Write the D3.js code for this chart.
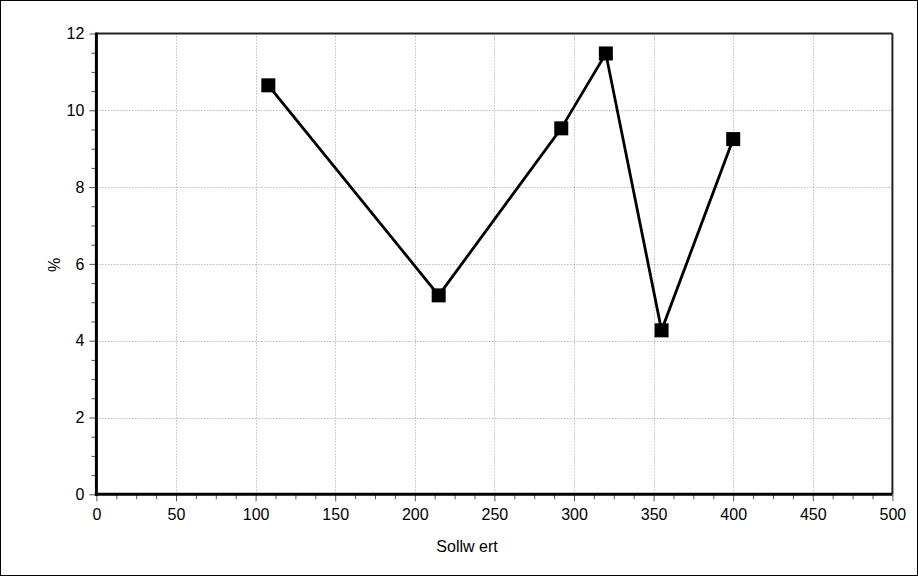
<!DOCTYPE html>
<html>
<head>
<meta charset="utf-8">
<script src="https://cdn.jsdelivr.net/npm/d3@7/dist/d3.min.js"></script>
<style>
  body { margin: 0; background: #fff; }
  text { font-family: "Liberation Sans", Arial, sans-serif; fill: #000; }
</style>
</head>
<body>
<div id="chart"></div>
<script>
var sollwert = [108, 215, 292, 320, 355, 400];
var prozent = [10.65, 5.18, 9.53, 11.48, 4.27, 9.25];
var xTicks = [0, 50, 100, 150, 200, 250, 300, 350, 400, 450, 500];
var yTicks = [0, 2, 4, 6, 8, 10, 12];

var width = 918, height = 576;
var plotLeft = 96.4, plotRight = 892.4, plotTop = 33.5, plotBottom = 494.3;

var svg = d3.select("#chart").append("svg")
    .attr("width", width)
    .attr("height", height);

// outer frame
svg.append("rect")
    .attr("x", 0.5).attr("y", 0.5)
    .attr("width", width - 1).attr("height", height - 1)
    .attr("fill", "none").attr("stroke", "#000");

var x = d3.scaleLinear().domain([0, 500]).range([plotLeft, plotRight]);
var y = d3.scaleLinear().domain([0, 12]).range([plotBottom, plotTop]);

// grid
var grid = svg.append("g").attr("stroke", "#999").attr("stroke-dasharray", "1,2");
grid.selectAll(".gx").data(xTicks.slice(1, -1)).enter().append("line")
    .attr("x1", function(d) { return Math.round(x(d)) + 0.5; })
    .attr("x2", function(d) { return Math.round(x(d)) + 0.5; })
    .attr("y1", plotTop).attr("y2", plotBottom);
grid.selectAll(".gy").data(yTicks.slice(1, -1)).enter().append("line")
    .attr("y1", function(d) { return Math.round(y(d)) + 0.5; })
    .attr("y2", function(d) { return Math.round(y(d)) + 0.5; })
    .attr("x1", plotLeft).attr("x2", plotRight);

// minor ticks
var minorX = d3.range(0, 500.1, 12.5).filter(function(d) { return d % 50 != 0; });
var minorY = d3.range(0, 12.01, 0.5).filter(function(d) { return d % 2 != 0; });
svg.append("g").attr("transform", "translate(0," + plotBottom + ")")
    .call(d3.axisBottom(x).tickValues(minorX).tickSize(5).tickFormat(""))
    .call(function(g) { g.select(".domain").remove(); g.selectAll("line").attr("stroke", "#555"); });
svg.append("g").attr("transform", "translate(" + plotLeft + ",0)")
    .call(d3.axisLeft(y).tickValues(minorY).tickSize(5).tickFormat(""))
    .call(function(g) { g.select(".domain").remove(); g.selectAll("line").attr("stroke", "#555"); });

// major axes
var xAxis = svg.append("g").attr("transform", "translate(0," + plotBottom + ")")
    .call(d3.axisBottom(x).tickValues(xTicks).tickSize(7).tickPadding(7).tickFormat(d3.format("d")));
var yAxis = svg.append("g").attr("transform", "translate(" + plotLeft + ",0)")
    .call(d3.axisLeft(y).tickValues(yTicks).tickSize(7).tickPadding(5).tickFormat(d3.format("d")));
[xAxis, yAxis].forEach(function(g) {
    g.select(".domain").remove();
    g.selectAll("line").attr("stroke", "#555");
    g.selectAll("text").attr("font-size", "16px").attr("font-family", "Liberation Sans, Arial, sans-serif");
});

// frame of plot area
svg.append("line").attr("x1", plotLeft).attr("x2", plotRight).attr("y1", plotTop).attr("y2", plotTop)
    .attr("stroke", "#222").attr("stroke-width", 2);
svg.append("line").attr("x1", plotRight).attr("x2", plotRight).attr("y1", plotTop).attr("y2", plotBottom)
    .attr("stroke", "#222").attr("stroke-width", 2);
svg.append("line").attr("x1", plotLeft).attr("x2", plotLeft).attr("y1", plotTop - 1).attr("y2", plotBottom + 1.5)
    .attr("stroke", "#000").attr("stroke-width", 3);
svg.append("line").attr("x1", plotLeft - 1.5).attr("x2", plotRight).attr("y1", plotBottom).attr("y2", plotBottom)
    .attr("stroke", "#000").attr("stroke-width", 3);

// data line
var pts = sollwert.map(function(d, i) { return [d, prozent[i]]; });
svg.append("path")
    .datum(pts)
    .attr("fill", "none")
    .attr("stroke", "#000")
    .attr("stroke-width", 2.8)
    .attr("d", d3.line().x(function(d) { return x(d[0]); }).y(function(d) { return y(d[1]); }));

svg.selectAll(".marker").data(pts).enter().append("rect")
    .attr("x", function(d) { return x(d[0]) - 7; })
    .attr("y", function(d) { return y(d[1]) - 7; })
    .attr("width", 14).attr("height", 14)
    .attr("fill", "#000");

// axis titles
svg.append("text").attr("x", 467).attr("y", 552)
    .attr("text-anchor", "middle").attr("font-size", "16px").text("Sollw ert");
svg.append("text")
    .attr("transform", "translate(60,265) rotate(-90)")
    .attr("text-anchor", "middle").attr("font-size", "16px").text("%");
</script>
</body>
</html>
